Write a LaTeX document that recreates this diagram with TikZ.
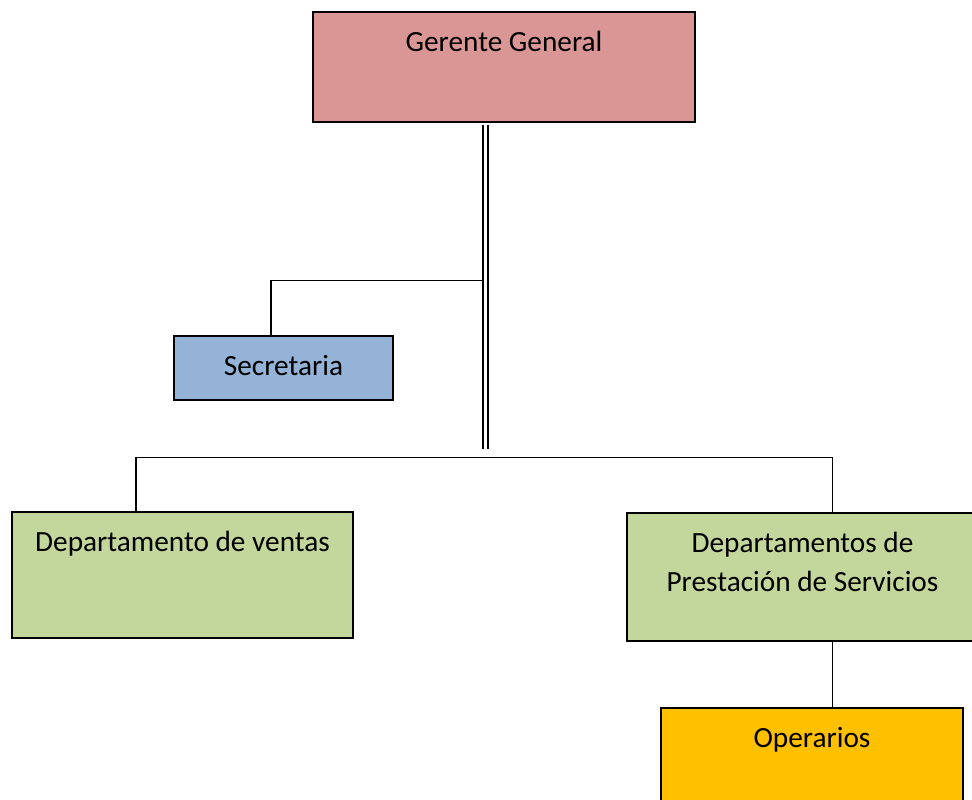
\documentclass[tikz,border=0pt]{standalone}
\usepackage{fontspec}
\setmainfont{Carlito}
\definecolor{gerente}{HTML}{D99694}
\definecolor{secre}{HTML}{95B3D7}
\definecolor{depto}{HTML}{C3D69B}
\definecolor{opera}{HTML}{FFC000}
\begin{document}
\begin{tikzpicture}[x=1pt,y=-1pt,
  box/.style={draw=black,line width=2pt,rectangle,inner sep=0pt,outer sep=0pt,anchor=north west,
    font=\fontsize{29.3}{39}\selectfont},
  conn/.style={draw=black,line width=1.8pt},
  dbl/.style={draw=black,line width=1.8pt,double=white,double distance=2.6pt}]
\clip (0,0) rectangle (972,800);
\fill[white] (0,0) rectangle (972,800);
\node[box,fill=gerente,minimum width=382pt,text height=40pt,text depth=70pt] (gg) at (313,12) {Gerente General};
\node[box,fill=secre,minimum width=219pt,text height=39pt,text depth=25pt] (sec) at (174,336) {Secretaria};
\node[box,fill=depto,minimum width=341pt,text height=39pt,text depth=87pt] (ven) at (12,512) {Departamento de ventas};
\node[box,fill=depto,minimum width=351pt,text height=40pt,text depth=88pt] (pre) at (627,512.5)
  {\begin{tabular}[t]{@{}c@{}}Departamentos de\\Prestación de Servicios\end{tabular}};
\node[box,fill=opera,minimum width=302pt,text height=39pt,text depth=83pt] (ope) at (661,708) {Operarios};
\coordinate (jx) at (485.5,449);
\coordinate (js) at (483,280.5);
\coordinate (sx) at (271,280.5);
\coordinate (jl) at (136,457.5);
\coordinate (jr) at (832.5,457.5);
\draw[dbl,shorten <=3pt] (gg.south -| jx) -- (jx);
\draw[conn] (js) -- (sx) -- (sec.north -| sx);
\draw[conn] (ven.north -| jl) -- (jl) -- (jr) -- (pre.north -| jr);
\draw[conn] (pre.south -| jr) -- (ope.north -| jr);
\end{tikzpicture}
\end{document}
